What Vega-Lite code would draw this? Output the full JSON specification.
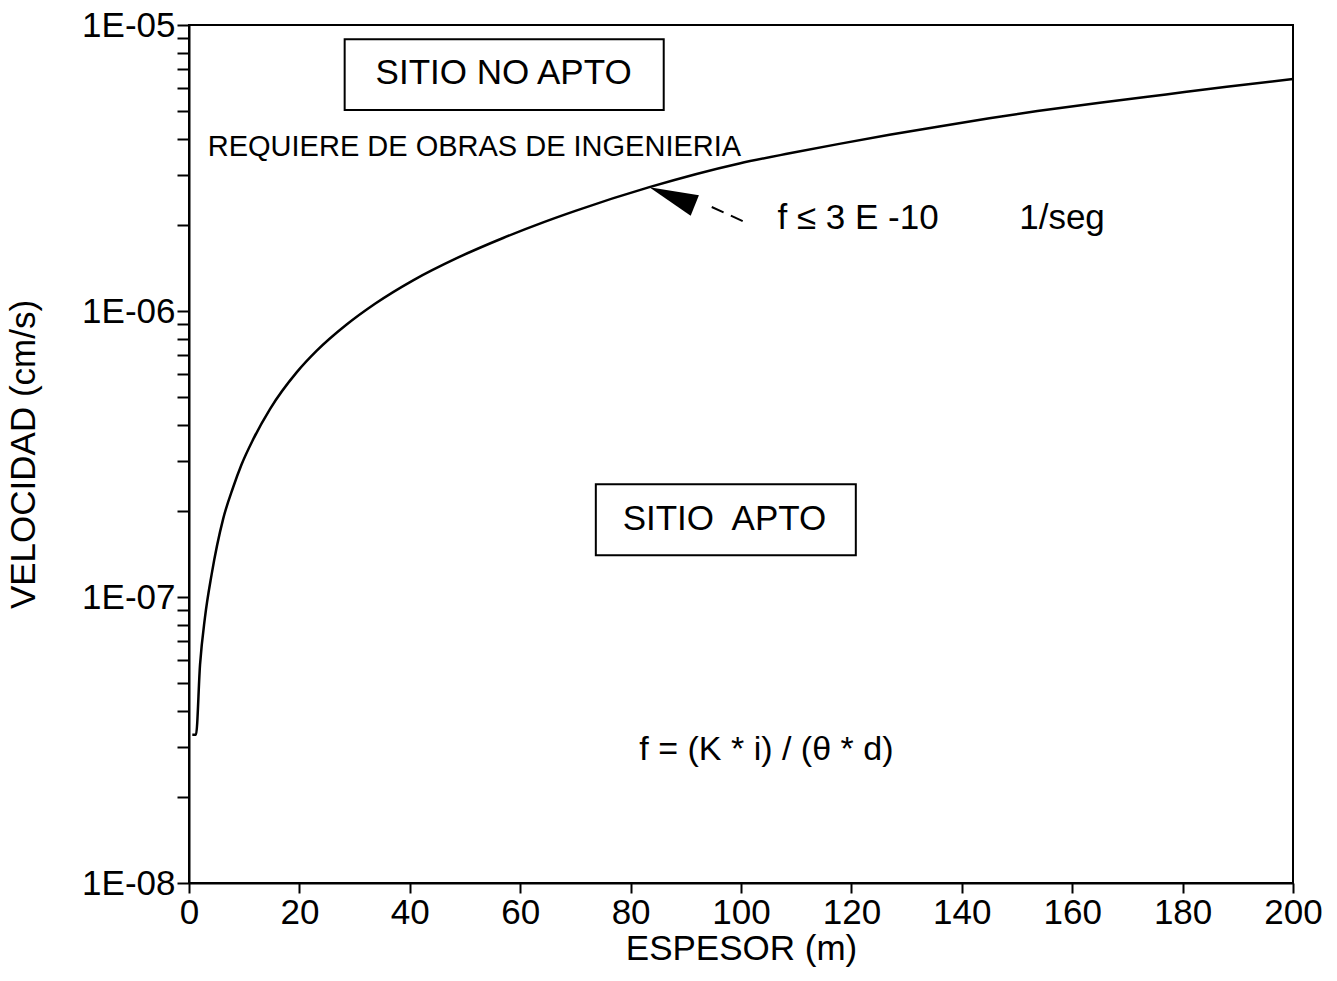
{
  "$schema": "https://vega.github.io/schema/vega-lite/v6.json",
  "width": 1104,
  "height": 858,
  "autosize": {"type": "none"},
  "padding": {"left": 189, "top": 25, "right": 44, "bottom": 98},
  "background": "white",
  "config": {
    "view": {"stroke": "black", "strokeWidth": 2},
    "font": "Liberation Sans",
    "axis": {
      "domainColor": "black", "domainWidth": 2,
      "tickColor": "black", "tickWidth": 2,
      "labelColor": "black", "titleColor": "black",
      "labelFont": "Liberation Sans", "titleFont": "Liberation Sans",
      "titleFontWeight": "normal", "grid": false
    }
  },
  "datasets": {
    "curve": [
      {"espesor": 0.6, "velocidad": 3.3e-8},
      {"espesor": 1.27, "velocidad": 3.3e-8},
      {"espesor": 2.0, "velocidad": 5.8e-8},
      {"espesor": 2.9, "velocidad": 8.5e-8},
      {"espesor": 4.1, "velocidad": 1.2e-7},
      {"espesor": 6.2, "velocidad": 1.88e-7},
      {"espesor": 8.0, "velocidad": 2.42e-7},
      {"espesor": 9.5, "velocidad": 2.9e-7},
      {"espesor": 11.6, "velocidad": 3.55e-7},
      {"espesor": 14.7, "velocidad": 4.55e-7},
      {"espesor": 19.5, "velocidad": 6.1e-7},
      {"espesor": 23.1, "velocidad": 7.25e-7},
      {"espesor": 28.5, "velocidad": 8.95e-7},
      {"espesor": 33.7, "velocidad": 1.06e-6},
      {"espesor": 40.6, "velocidad": 1.28e-6},
      {"espesor": 48.5, "velocidad": 1.53e-6},
      {"espesor": 56.9, "velocidad": 1.8e-6},
      {"espesor": 64.4, "velocidad": 2.05e-6},
      {"espesor": 70.0, "velocidad": 2.24e-6},
      {"espesor": 83.4, "velocidad": 2.71e-6},
      {"espesor": 99.7, "velocidad": 3.28e-6},
      {"espesor": 108.8, "velocidad": 3.56e-6},
      {"espesor": 117.8, "velocidad": 3.84e-6},
      {"espesor": 126.9, "velocidad": 4.13e-6},
      {"espesor": 135.9, "velocidad": 4.42e-6},
      {"espesor": 145.0, "velocidad": 4.72e-6},
      {"espesor": 153.7, "velocidad": 5.0e-6},
      {"espesor": 165.0, "velocidad": 5.35e-6},
      {"espesor": 177.0, "velocidad": 5.72e-6},
      {"espesor": 188.0, "velocidad": 6.08e-6},
      {"espesor": 200.0, "velocidad": 6.47e-6}
    ],
    "boxes": [
      {"espesor": 28.2, "espesor2": 86.0, "velocidad": 8.92e-6, "velocidad2": 5.04e-6},
      {"espesor": 73.7, "espesor2": 120.8, "velocidad": 2.48e-7, "velocidad2": 1.4e-7}
    ],
    "boxtext": [
      {"espesor": 57.0, "velocidad": 6.79e-6, "texto": "SITIO NO APTO"},
      {"espesor": 97.0, "velocidad": 1.88e-7, "texto": "SITIO\u00a0 APTO"}
    ],
    "notes": [
      {"espesor": 104.6, "velocidad": 2.92e-8, "texto": "f = (K * i) / (θ * d)"}
    ],
    "leftnotes": [
      {"espesor": 106.6, "velocidad": 2.11e-6, "texto": "f ≤ 3 E -10"},
      {"espesor": 150.4, "velocidad": 2.11e-6, "texto": "1/seg"}
    ],
    "small": [
      {"espesor": 3.4, "velocidad": 3.74e-6, "texto": "REQUIERE DE OBRAS DE INGENIERIA"}
    ],
    "arrow": [
      {"espesor": 83.4, "velocidad": 2.71e-6}
    ],
    "dash": [
      {"espesor": 94.7, "velocidad": 2.31e-6},
      {"espesor": 100.6, "velocidad": 2.05e-6}
    ]
  },
  "layer": [
    {
      "data": {"name": "boxes"},
      "mark": {"type": "rect", "fill": "white", "stroke": "black", "strokeWidth": 2},
      "encoding": {
        "x": {"field": "espesor", "type": "quantitative", "title": "ESPESOR (m)",
          "scale": {"domain": [0, 200], "nice": false, "zero": false},
          "axis": {"values": [0, 20, 40, 60, 80, 100, 120, 140, 160, 180, 200], "tickSize": 10, "labelFontSize": 35, "titleFontSize": 35, "labelPadding": 2, "titlePadding": 1, "labelFlush": false, "labelOverlap": false}},
        "x2": {"field": "espesor2"},
        "y": {"field": "velocidad", "type": "quantitative", "title": "VELOCIDAD (cm/s)",
          "scale": {"type": "log", "domain": [1e-8, 1e-5], "nice": false},
          "axis": {
            "values": [1e-8, 2e-8, 3e-8, 4e-8, 5e-8, 6e-8, 7e-8, 8e-8, 9e-8, 1e-7, 2e-7, 3e-7, 4e-7, 5e-7, 6e-7, 7e-7, 8e-7, 9e-7, 1e-6, 2e-6, 3e-6, 4e-6, 5e-6, 6e-6, 7e-6, 8e-6, 9e-6, 1e-5],
            "labelExpr": "datum.value === 1e-5 ? '1E-05' : datum.value === 1e-6 ? '1E-06' : datum.value === 1e-7 ? '1E-07' : datum.value === 1e-8 ? '1E-08' : ''",
            "tickSize": 12, "labelFontSize": 35, "titleFontSize": 35, "labelPadding": 2, "titlePadding": 40, "labelOverlap": false, "labelBound": false}},
        "y2": {"field": "velocidad2"}
      }
    },
    {
      "data": {"name": "curve"},
      "mark": {"type": "line", "color": "black", "strokeWidth": 2.5, "interpolate": "monotone"},
      "encoding": {
        "x": {"field": "espesor", "type": "quantitative"},
        "y": {"field": "velocidad", "type": "quantitative"}
      }
    },
    {
      "data": {"name": "dash"},
      "mark": {"type": "line", "color": "black", "strokeWidth": 2, "strokeDash": [13, 8]},
      "encoding": {
        "x": {"field": "espesor", "type": "quantitative"},
        "y": {"field": "velocidad", "type": "quantitative"}
      }
    },
    {
      "data": {"name": "arrow"},
      "mark": {"type": "point", "shape": "M 0 0 L 2 -0.45 L 2 0.45 Z", "filled": true, "color": "black", "opacity": 1, "size": 2400, "angle": 22},
      "encoding": {
        "x": {"field": "espesor", "type": "quantitative"},
        "y": {"field": "velocidad", "type": "quantitative"}
      }
    },
    {
      "data": {"name": "boxtext"},
      "mark": {"type": "text", "fontSize": 35, "align": "center", "baseline": "middle", "color": "black", "font": "Liberation Sans"},
      "encoding": {
        "x": {"field": "espesor", "type": "quantitative"},
        "y": {"field": "velocidad", "type": "quantitative"},
        "text": {"field": "texto"}
      }
    },
    {
      "data": {"name": "notes"},
      "mark": {"type": "text", "fontSize": 34, "align": "center", "baseline": "middle", "color": "black", "font": "Liberation Sans"},
      "encoding": {
        "x": {"field": "espesor", "type": "quantitative"},
        "y": {"field": "velocidad", "type": "quantitative"},
        "text": {"field": "texto"}
      }
    },
    {
      "data": {"name": "leftnotes"},
      "mark": {"type": "text", "fontSize": 35, "align": "left", "baseline": "middle", "color": "black", "font": "Liberation Sans"},
      "encoding": {
        "x": {"field": "espesor", "type": "quantitative"},
        "y": {"field": "velocidad", "type": "quantitative"},
        "text": {"field": "texto"}
      }
    },
    {
      "data": {"name": "small"},
      "mark": {"type": "text", "fontSize": 29, "align": "left", "baseline": "middle", "color": "black", "font": "Liberation Sans"},
      "encoding": {
        "x": {"field": "espesor", "type": "quantitative"},
        "y": {"field": "velocidad", "type": "quantitative"},
        "text": {"field": "texto"}
      }
    }
  ]
}
